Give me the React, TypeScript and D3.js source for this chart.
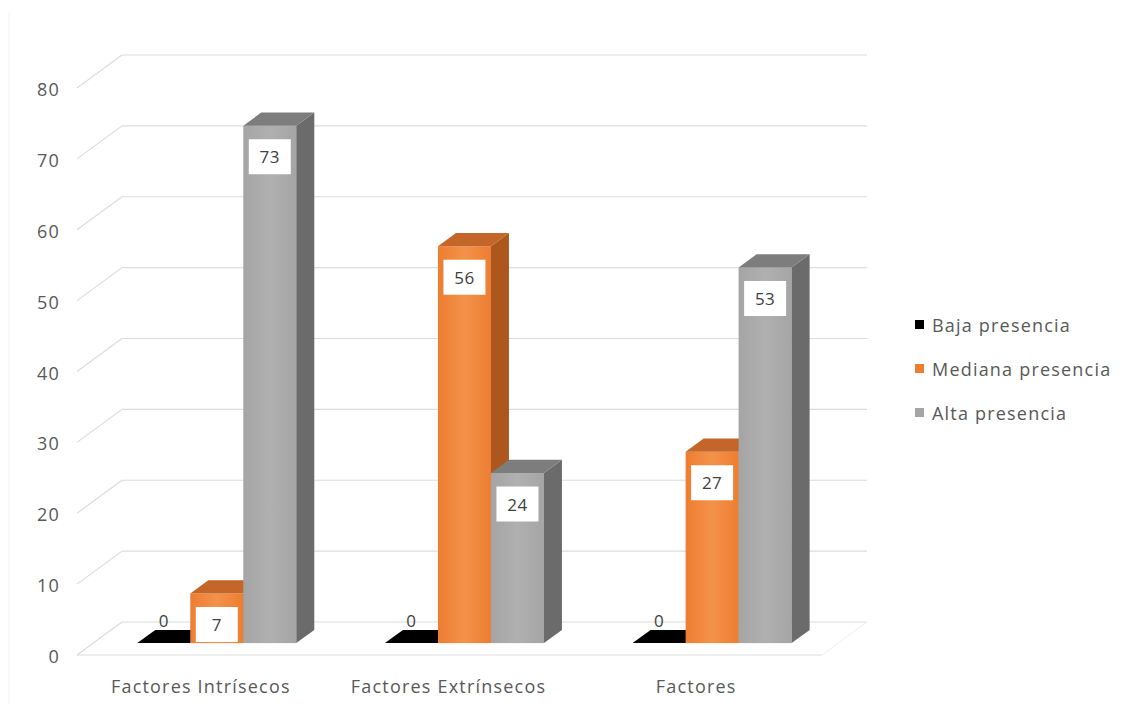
import React from "react";
import * as d3 from "d3";

const categories = ["Factores Intrísecos", "Factores Extrínsecos", "Factores"];
const seriesNames = ["Baja presencia", "Mediana presencia", "Alta presencia"];
const bajaValues = [0, 0, 0];
const medianaValues = [7, 56, 27];
const altaValues = [73, 24, 53];
const yTicks = [0, 10, 20, 30, 40, 50, 60, 70, 80];

const seriesValues = [bajaValues, medianaValues, altaValues];
const palette = [
  { front: "#0a0a0a", frontLight: "#1a1a1a", side: "#000000", top: "#000000", legend: "#000000" },
  { front: "#ed7d31", frontLight: "#f4924a", side: "#ad561d", top: "#c4652a", legend: "#ed7d31" },
  { front: "#a5a5a5", frontLight: "#b0b0b0", side: "#6b6b6b", top: "#7d7d7d", legend: "#a5a5a5" },
];

const W = 1141;
const H = 711;
const FONT = "'Open Sans', 'Liberation Sans', sans-serif";
const LS = 1.2;

export default function App() {
  const x0 = 77;
  const x1 = 820;
  const depthDx = 45;
  const depthDy = -33;
  const barDepthStart = 0.36;
  const barDepthLen = 0.4;

  const x = d3.scaleBand<string>().domain(categories).range([x0, x1]).paddingInner(0).paddingOuter(0);
  const y = d3.scaleLinear().domain([0, 80]).range([655, 88]);
  const bw = x.bandwidth();
  const inner = d3
    .scaleBand<string>()
    .domain(seriesNames)
    .range([bw * 0.178, bw * 0.178 + 159])
    .paddingInner(0);
  const barW = inner.bandwidth();

  const fx = barDepthStart * depthDx;
  const fy = barDepthStart * depthDy;
  const bdx = barDepthLen * depthDx;
  const bdy = barDepthLen * depthDy;

  const gridColor = "#dcdcdc";
  const textColor = "#595959";

  const bars: any[] = [];
  const labels: any[] = [];
  categories.forEach((cat, ci) => {
    seriesNames.forEach((s, si) => {
      const v = seriesValues[si][ci];
      const left = (x(cat) as number) + (inner(s) as number) + fx;
      const right = left + barW;
      const bottom = y(0) + fy;
      const top = y(v) + fy;
      const c = palette[si];
      const key = `${ci}-${si}`;
      bars.push(
        <g key={key}>
          {v > 0 && (
            <rect x={left} y={top} width={barW} height={bottom - top} fill={`url(#grad${si})`} />
          )}
          {v > 0 && (
            <path
              d={`M${right},${bottom}L${right},${top}L${right + bdx},${top + bdy}L${right + bdx},${bottom + bdy}Z`}
              fill={c.side}
            />
          )}
          <path
            d={`M${left},${top}L${right},${top}L${right + bdx},${top + bdy}L${left + bdx},${top + bdy}Z`}
            fill={c.top}
          />
        </g>
      );
      const cx = left + barW / 2;
      if (v === 0) {
        labels.push(
          <text key={key} x={cx} y={top - 23} textAnchor="middle" dominantBaseline="central" fontSize={17} fill="#404040" fontFamily={FONT} letterSpacing={0.5}>
            {v}
          </text>
        );
      } else {
        const cy = top + 31;
        labels.push(
          <g key={key}>
            <rect x={cx - 21} y={cy - 17.5} width={42} height={35} fill="#ffffff" />
            <text x={cx} y={cy} textAnchor="middle" dominantBaseline="central" fontSize={17} fill="#404040" fontFamily={FONT} letterSpacing={0.5}>
              {v}
            </text>
          </g>
        );
      }
    });
  });

  return (
    <svg width={W} height={H} style={{ position: "absolute", left: 0, top: 0, background: "#ffffff" }}>
      <defs>
        {palette.map((c, i) => (
          <linearGradient key={i} id={`grad${i}`} x1="0" y1="0" x2="1" y2="0">
            <stop offset="0" stopColor={c.front} />
            <stop offset="0.5" stopColor={c.frontLight} />
            <stop offset="1" stopColor={c.front} />
          </linearGradient>
        ))}
      </defs>
      <line x1={9} y1={12} x2={9} y2={705} stroke="#f2f2f2" strokeWidth={1} />
      {yTicks.map((t) => (
        <g key={t}>
          <line x1={x0} y1={y(t)} x2={x0 + depthDx} y2={y(t) + depthDy} stroke={gridColor} strokeWidth={1.2} />
          <line x1={x0 + depthDx} y1={y(t) + depthDy} x2={x1 + depthDx + 2} y2={y(t) + depthDy} stroke={gridColor} strokeWidth={1.2} />
        </g>
      ))}
      <line x1={x0} y1={y(0)} x2={x1 + 2} y2={y(0)} stroke={gridColor} strokeWidth={1.2} />
      <line x1={x1 + 2} y1={y(0)} x2={x1 + 2 + depthDx} y2={y(0) + depthDy} stroke="#eeeeee" strokeWidth={1} />
      {yTicks.map((t) => (
        <text key={t} x={60} y={y(t) + 1} textAnchor="end" dominantBaseline="central" fontSize={18} fill={textColor} fontFamily={FONT} letterSpacing={LS}>
          {t}
        </text>
      ))}
      {bars}
      {labels}
      {categories.map((cat) => (
        <text key={cat} x={(x(cat) as number) + bw / 2} y={686} textAnchor="middle" dominantBaseline="central" fontSize={18} fill={textColor} fontFamily={FONT} letterSpacing={LS}>
          {cat}
        </text>
      ))}
      {seriesNames.map((s, i) => (
        <g key={s} transform={`translate(915, ${325 + i * 44})`}>
          <rect x={0} y={-5} width={9} height={9} fill={palette[i].legend} />
          <text x={17} y={0} dominantBaseline="central" fontSize={18} fill={textColor} fontFamily={FONT} letterSpacing={LS}>
            {s}
          </text>
        </g>
      ))}
    </svg>
  );
}
